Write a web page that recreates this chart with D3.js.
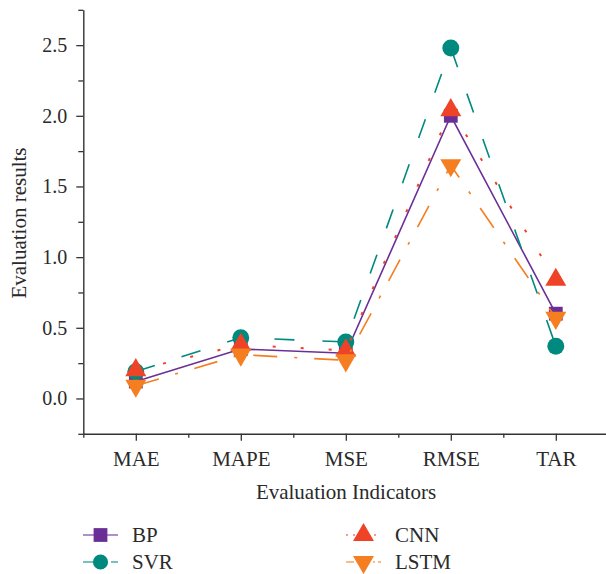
<!DOCTYPE html>
<html>
<head>
<meta charset="utf-8">
<script src="https://cdn.jsdelivr.net/npm/d3@7"></script>
<style>
  body { margin: 0; background: #fff; }
  svg { display: block; }
</style>
</head>
<body>
<svg id="chart" width="606" height="574"></svg>
<script>
// data
const indicators = ["MAE", "MAPE", "MSE", "RMSE", "TAR"];
const bp   = [0.12, 0.35, 0.32, 2.00, 0.60];
const svr  = [0.19, 0.43, 0.40, 2.48, 0.37];
const cnn  = [0.20, 0.38, 0.34, 2.04, 0.84];
const lstm = [0.09, 0.31, 0.27, 1.65, 0.57];
const yTicks = [0, 0.5, 1.0, 1.5, 2.0, 2.5];

const series = [
    {name: "BP",   values: bp,   color: "#6a2f96", dash: null,           symbol: d3.symbolSquare,   size: 190, rot: 0,   legDash: null},
    {name: "SVR",  values: svr,  color: "#00897f", dash: "20,28",        symbol: d3.symbolCircle,   size: 225, rot: 0,   legDash: "10,4"},
    {name: "CNN",  values: cnn,  color: "#ee4326", dash: "3,25",         symbol: d3.symbolTriangle, size: 190, rot: 0,   legDash: "2,5"},
    {name: "LSTM", values: lstm, color: "#f47e20", dash: "24,17,3,17",   symbol: d3.symbolTriangle, size: 190, rot: 180, legDash: "8,3,2,3"}
];

const plotLeft = 83.3, plotRight = 608.3, plotTop = 9.8, plotBottom = 433.8;
const serif = '"Liberation Serif", "Times New Roman", serif';
const textColor = "#2a2a2a";

const svg = d3.select("#chart");

const x = d3.scalePoint().domain(indicators).range([plotLeft, plotRight]).padding(0.5);
const xMinor = d3.scaleLinear().domain([-0.5, 4.5]).range([plotLeft, plotRight]);
const y = d3.scaleLinear().domain([-0.25, 2.75]).range([plotBottom, plotTop]);

const axisColor = "#333";

// minor ticks x
svg.append("g")
    .attr("transform", `translate(0,${plotBottom})`)
    .call(d3.axisBottom(xMinor).tickValues([-0.5, 0.5, 1.5, 2.5, 3.5]).tickSize(4).tickFormat(""))
    .call(g => g.select(".domain").remove())
    .call(g => g.selectAll("line").attr("stroke", axisColor).attr("stroke-width", 1.3));

const xAxis = svg.append("g")
    .attr("transform", `translate(0,${plotBottom})`)
    .call(d3.axisBottom(x).tickSize(7).tickSizeOuter(0).tickPadding(10));
xAxis.select(".domain").attr("stroke", axisColor).attr("stroke-width", 1.4);
xAxis.selectAll("line").attr("stroke", axisColor).attr("stroke-width", 1.3);
xAxis.selectAll("text")
    .style("font-family", serif).style("font-size", "21px").style("fill", textColor);

// minor ticks y
svg.append("g")
    .attr("transform", `translate(${plotLeft},0)`)
    .call(d3.axisLeft(y).tickValues([-0.25, 0.25, 0.75, 1.25, 1.75, 2.25, 2.75]).tickSize(5).tickFormat(""))
    .call(g => g.select(".domain").remove())
    .call(g => g.selectAll("line").attr("stroke", axisColor).attr("stroke-width", 1.3));

const yAxis = svg.append("g")
    .attr("transform", `translate(${plotLeft},0)`)
    .call(d3.axisLeft(y).tickValues(yTicks).tickFormat(d3.format(".1f")).tickSize(7).tickSizeOuter(0).tickPadding(9));
yAxis.select(".domain").attr("stroke", axisColor).attr("stroke-width", 1.4);
yAxis.selectAll("line").attr("stroke", axisColor).attr("stroke-width", 1.3);
yAxis.selectAll("text")
    .style("font-family", serif).style("font-size", "20px").style("fill", textColor);

// axis titles
svg.append("text")
    .attr("x", 346)
    .attr("y", 499)
    .attr("text-anchor", "middle")
    .style("font-family", serif).style("font-size", "21px").style("fill", textColor)
    .text("Evaluation Indicators");

svg.append("text")
    .attr("transform", "translate(26,223) rotate(-90)")
    .attr("text-anchor", "middle")
    .style("font-family", serif).style("font-size", "21px").style("fill", textColor)
    .text("Evaluation results");

// series
const line = d3.line()
    .x((d, i) => x(indicators[i]))
    .y(d => y(d));

series.forEach(s => {
    const g = svg.append("g");
    g.append("path")
        .datum(s.values)
        .attr("d", line)
        .attr("fill", "none")
        .attr("stroke", s.color)
        .attr("stroke-width", s.name === "CNN" ? 2 : 1.6)
        .attr("stroke-dasharray", s.dash);
    g.selectAll(".pt")
        .data(s.values)
        .join("path")
        .attr("class", "pt")
        .attr("d", d3.symbol().type(s.symbol).size(s.size))
        .attr("transform", (d, i) => `translate(${x(indicators[i])},${y(d)}) rotate(${s.rot})`)
        .attr("fill", s.color);
});

// legend
const legPos = [
    {lx: 83, ly: 535},
    {lx: 83, ly: 562},
    {lx: 346, ly: 535},
    {lx: 346, ly: 562}
];

series.forEach((s, i) => {
    const p = legPos[i];
    const g = svg.append("g").attr("transform", `translate(${p.lx},${p.ly})`);
    g.append("line")
        .attr("x1", 0).attr("x2", 35)
        .attr("y1", 0).attr("y2", 0)
        .attr("stroke", s.color)
        .attr("stroke-opacity", 0.7)
        .attr("stroke-width", 1.5)
        .attr("stroke-dasharray", s.legDash);
    g.append("path")
        .attr("d", d3.symbol().type(s.symbol).size(s.name === "SVR" ? 180 : s.size))
        .attr("transform", `translate(17.5,0) rotate(${s.rot})`)
        .attr("fill", s.color);
    g.append("text")
        .attr("x", 49)
        .attr("y", 7)
        .style("font-family", serif).style("font-size", "21px").style("fill", textColor)
        .text(s.name);
});
</script>
</body>
</html>
